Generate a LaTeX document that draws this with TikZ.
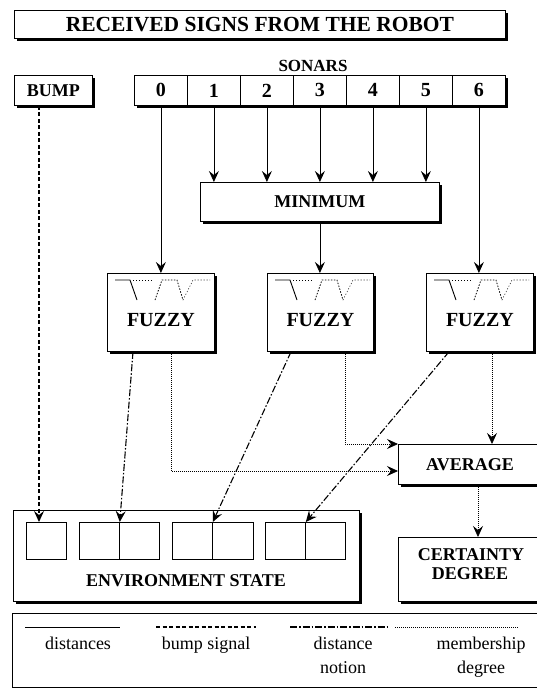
\documentclass[tikz,border=0pt]{standalone}
\usepackage{fontspec}
\setmainfont{Liberation Serif}
\usetikzlibrary{arrows.meta,shadows,calc}
\begin{document}
\begin{tikzpicture}[x=1pt,y=-1pt,
  box/.style={draw, line width=0.8pt, fill=white, inner sep=0pt, anchor=north west,
    drop shadow={shadow xshift=2.5pt, shadow yshift=-2.5pt, fill=black, opacity=1}},
  plainbox/.style={draw, line width=0.8pt, fill=white, inner sep=0pt, anchor=north west},
  lbl/.style={font=\fontsize{18}{20}\selectfont\bfseries, inner sep=0pt},
  leg/.style={font=\fontsize{18}{24}\selectfont, inner sep=0pt, align=center, anchor=north},
  tip/.style={-{Stealth[length=11pt,width=10pt,inset=4pt]}},
  distline/.style={tip, line width=0.8pt},
  bumpline/.style={tip, line width=1.4pt, dash pattern=on 4pt off 2.5pt},
  notionline/.style={tip, line width=1.1pt, dash pattern=on 7pt off 2pt on 1.5pt off 2pt},
  membline/.style={tip, line width=0.8pt, dash pattern=on 1pt off 1pt},
  fuzzyicon/.pic={
    \draw[line width=0.9pt] (8,7)--(23,7)--(30,27);
    \draw[line width=0.6pt, dash pattern=on 1pt off 2pt] (26,7)--(46,7);
    \draw[line width=0.8pt, dash pattern=on 1.5pt off 1.5pt] (48,27)--(55,7)--(70,7)--(76,27);
    \draw[line width=0.6pt, dash pattern=on 1pt off 2pt] (76,27)--(86,7)--(103,7);
  }
]
\useasboundingbox (0,0) rectangle (537,689);
\clip (0,0) rectangle (537,689);
\fill[white] (0,0) rectangle (537,689);

% title
\node[box, minimum width=491pt, minimum height=28pt] (title) at (14,10) {};
\node[lbl, font=\fontsize{21.5}{24}\selectfont\bfseries] (titletext) at (title.center) {RECEIVED SIGNS FROM THE ROBOT};

% bump and sonars
\node[box, minimum width=78pt, minimum height=30pt] (bump) at (14,75) {};
\node[lbl] (bumptext) at (bump.center) {BUMP};
\node[lbl, font=\fontsize{17}{20}\selectfont\bfseries] (sonarlabel) at (313,66) {SONARS};
\foreach \i in {0,...,6}{
  \node[box, minimum width=53pt, minimum height=30pt] (s\i) at (134+53*\i,75) {};
  \node[lbl, font=\fontsize{20}{22}\selectfont\bfseries] (s\i t) at (s\i.center) {\i};
}

% minimum
\node[box, minimum width=239pt, minimum height=39pt] (min) at (200,182) {};
\node[lbl] (mintext) at (min.center) {MINIMUM};

% fuzzy boxes
\node[box, minimum width=107pt, minimum height=78pt] (f1) at (107,273) {};
\node[box, minimum width=106pt, minimum height=78pt] (f2) at (267,273) {};
\node[box, minimum width=107pt, minimum height=78pt] (f3) at (426,273) {};
\foreach \f in {f1,f2,f3}{
  \pic at (\f.north west) {fuzzyicon};
  \node[lbl, font=\fontsize{20}{22}\selectfont\bfseries] (\f t) at ($(\f.center)+(0,8)$) {FUZZY};
}

% average and certainty
\node[box, minimum width=150pt, minimum height=40pt] (avg) at (398,444) {};
\node[lbl] (avgtext) at (470,465) {AVERAGE};
\node[box, minimum width=150pt, minimum height=64pt] (cert) at (398,537) {};
\node[lbl] (certtext1) at (471,555) {CERTAINTY};
\node[lbl] (certtext2) at (470,574) {DEGREE};

% environment state
\node[box, minimum width=346pt, minimum height=91pt] (env) at (13,510) {};
\node[plainbox, minimum width=40pt, minimum height=37pt] (c1) at (26,522) {};
\node[plainbox, minimum width=40pt, minimum height=37pt] (c2a) at (79,522) {};
\node[plainbox, minimum width=40pt, minimum height=37pt] (c2b) at (119,522) {};
\node[plainbox, minimum width=40pt, minimum height=37pt] (c3a) at (172,522) {};
\node[plainbox, minimum width=41pt, minimum height=37pt] (c3b) at (212,522) {};
\node[plainbox, minimum width=40pt, minimum height=37pt] (c4a) at (265,522) {};
\node[plainbox, minimum width=40pt, minimum height=37pt] (c4b) at (305,522) {};
\node[lbl] (envtext) at (186,581) {ENVIRONMENT STATE};

% connectors: distances
\draw[distline] (s0.south) -- (s0.south |- f1.north);
\foreach \i in {1,...,5}{
  \draw[distline] (s\i.south) -- (s\i.south |- min.north);
}
\draw[distline] (s6.south) -- (s6.south |- f3.north);
\draw[distline] (min.south) -- (min.south |- f2.north);

% bump signal
\coordinate (b0) at ($(bump.south west)+(25,0)$);
\draw[bumpline] (b0) -- (b0 |- c1.north);

% distance notion
\draw[notionline] ($(f1.south west)+(26,0)$) -- (c2a.north east);
\draw[notionline] ($(f2.south west)+(24,0)$) -- (c3a.north east);
\draw[notionline] ($(f3.south west)+(23,0)$) -- (c4a.north east);

% membership degree
\draw[membline] ($(f1.south west)+(64,0)$) |- ($(avg.north west)+(0,27)$);
\draw[membline] ($(f2.south west)+(78,0)$) |- ($(avg.north west)+(0,0)$);
\coordinate (m3) at ($(f3.south west)+(66,0)$);
\draw[membline] (m3) -- (m3 |- avg.north);
\coordinate (m4) at ($(avg.south west)+(80,0)$);
\draw[membline] (m4) -- (m4 |- cert.north);

% legend
\node[plainbox, minimum width=540pt, minimum height=74pt] (legend) at (12,613) {};
\draw[line width=0.9pt] (25,627) -- (120,627);
\draw[line width=1.4pt, dash pattern=on 4pt off 2.5pt] (156,627) -- (256,627);
\draw[line width=1.1pt, dash pattern=on 7pt off 2pt on 1.5pt off 2pt] (290,627) -- (387,627);
\draw[line width=0.7pt, dash pattern=on 1pt off 1pt] (395,627) -- (519,627);
\node[leg] (l1) at (78,637) {distances};
\node[leg] (l2) at (206,637) {bump signal};
\node[leg] (l3) at (343,637) {distance\\notion};
\node[leg] (l4) at (481,637) {membership\\degree};
\end{tikzpicture}
\end{document}
